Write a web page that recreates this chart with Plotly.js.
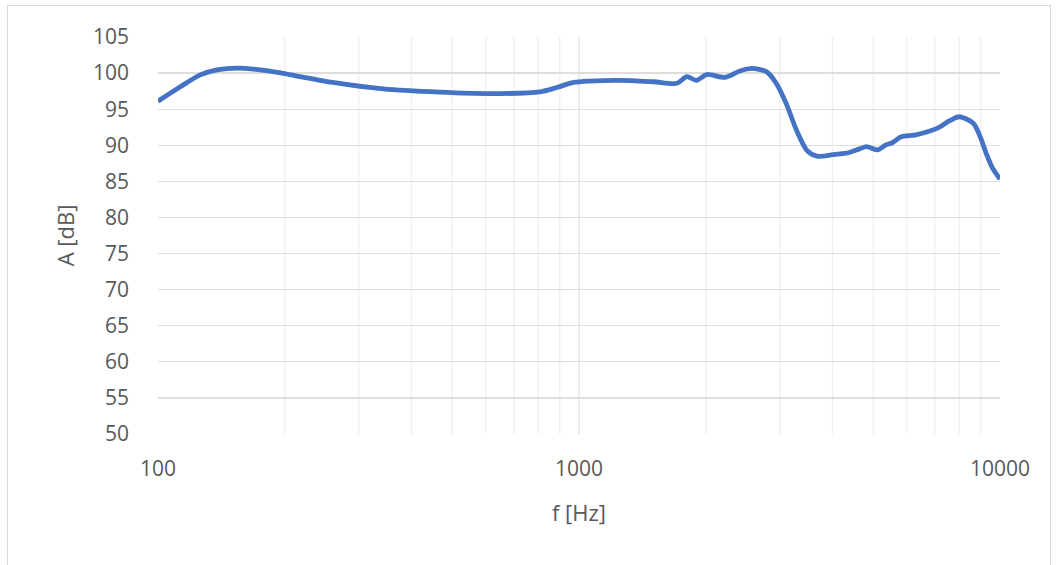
<!DOCTYPE html>
<html><head><meta charset="utf-8">
<script src="https://cdn.plot.ly/plotly-3.0.1.min.js"></script>
<style>
html,body{margin:0;padding:0;background:#fff;}
#wrap{position:relative;width:1057px;height:565px;}
#chart{width:1057px;height:565px;}
#frame{position:absolute;left:7px;top:5px;width:1042px;height:570px;border:1px solid #d9d9d9;pointer-events:none;}
</style></head>
<body>
<div id="wrap"><div id="chart"></div><div id="frame"></div></div>
<script>
const freqHz = [100, 113, 126, 138, 154, 181, 198, 260, 343, 467, 614, 808, 885, 971, 1062, 1252, 1502, 1710, 1803, 1901, 2010, 2219, 2412, 2571, 2787, 2940, 3105, 3285, 3477, 3670, 4012, 4387, 4638, 4817, 5125, 5340, 5550, 5840, 6310, 7150, 7595, 8000, 8640, 8970, 9270, 9580, 10000];
const levelDb = [96.1, 98.1, 99.75, 100.45, 100.7, 100.35, 99.95, 98.7, 97.8, 97.35, 97.15, 97.4, 98.0, 98.7, 98.9, 99.0, 98.8, 98.6, 99.5, 99.0, 99.8, 99.4, 100.3, 100.65, 100.2, 98.6, 95.8, 92.1, 89.3, 88.5, 88.7, 89.0, 89.5, 89.8, 89.35, 90.0, 90.35, 91.2, 91.45, 92.45, 93.4, 93.95, 93.05, 91.2, 88.9, 86.95, 85.3];
const yTicks = [50, 55, 60, 65, 70, 75, 80, 85, 90, 95, 100, 105];
const xTickVals = [100, 1000, 10000];
const xTickText = ["100", "1000", "10000"];
const minorGrid = [200,300,400,500,600,700,800,900,2000,3000,4000,5000,6000,7000,8000,9000];

const font = "Open Sans, Noto Sans, sans-serif";
const shapes = minorGrid.map(v => ({type:'line', xref:'x', yref:'paper', x0:v, x1:v, y0:0, y1:1, line:{color:'#efefef', width:1.3}, layer:'below'}));

Plotly.newPlot('chart', [{
  x: freqHz, y: levelDb, type:'scatter', mode:'lines',
  line:{color:'#4472C4', width:4.8, shape:'spline', smoothing:0.8},
  hoverinfo:'skip'
}], {
  width:1057, height:565,
  margin:{l:158, r:57, t:37, b:131},
  paper_bgcolor:'#fff', plot_bgcolor:'#fff',
  showlegend:false,
  font:{family:font, color:'#595959', size:21},
  xaxis:{type:'log', range:[2,4], tickvals:xTickVals, ticktext:xTickText,
    showgrid:true, gridcolor:'#ececec', gridwidth:1.3, zeroline:false, showline:false,
    ticks:'', ticklabelstandoff:20, tickfont:{size:21, color:'#595959'},
    title:{text:'f [Hz]', font:{size:22, color:'#595959'}, standoff:24}},
  yaxis:{range:[50,105], tickvals:yTicks, showgrid:true, gridcolor:'#dedede', gridwidth:1.3,
    zeroline:false, showline:false, ticks:'', ticklabelstandoff:28,
    tickfont:{size:21, color:'#595959'},
    title:{text:'A [dB]', font:{size:22, color:'#595959'}, standoff:12}},
  shapes: shapes
}, {staticPlot:true});
</script></body></html>
